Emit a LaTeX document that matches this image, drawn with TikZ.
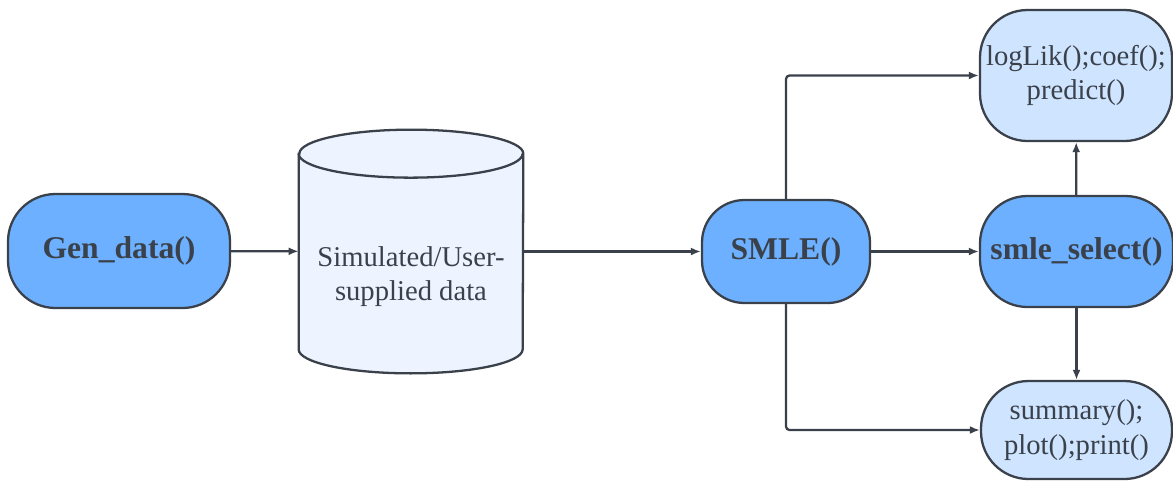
\documentclass[tikz,border=0pt]{standalone}
\usepackage{fontspec}
\setmainfont{Liberation Serif}
\usetikzlibrary{positioning,arrows.meta,calc}
\definecolor{smblue}{RGB}{108,176,255}
\definecolor{smlight}{RGB}{207,228,255}
\definecolor{smpale}{RGB}{237,244,255}
\definecolor{smgray}{RGB}{58,65,74}
\tikzset{
  fnbox/.style={draw=smgray, line width=1.3pt, rounded corners=0.95cm, fill=smblue, align=center, text=smgray, font=\fontsize{18}{21}\selectfont\bfseries, inner sep=0pt},
  outbox/.style={draw=smgray, line width=1.3pt, rounded corners=0.95cm, fill=smlight, align=center, text=smgray, font=\fontsize{16.3}{19.8}\selectfont, inner sep=0pt},
  arrow/.style={-{Latex[length=2mm,width=1.6mm]}, line width=1.3pt, smgray, rounded corners=2pt}
}
\begin{document}
\begin{tikzpicture}
        \useasboundingbox (0,0) rectangle (23.46,-9.6);
        \node[fnbox, minimum width=4.44cm, minimum height=2.28cm] (gen) at (2.38,-5.02) {Gen\_data()};
        \node[minimum width=4.48cm, minimum height=4.86cm, inner sep=0pt] (data) at (8.22,-5.03) {};
        % cylinder drawn round the data node
        \draw[smgray, line width=1.3pt, fill=smpale] ([yshift=-0.48cm]data.north west) -- ([yshift=0.48cm]data.south west)
          arc[start angle=180, end angle=360, x radius=2.24cm, y radius=0.48cm]
          -- ([yshift=-0.48cm]data.north east)
          arc[start angle=0, end angle=180, x radius=2.24cm, y radius=0.48cm] -- cycle;
        \draw[smgray, line width=1.3pt] ([yshift=-0.48cm]data.north west)
          arc[start angle=180, end angle=360, x radius=2.24cm, y radius=0.48cm];
        \node[align=center, text=smgray, font=\fontsize{16.3}{19.8}\selectfont] (datatxt) at (8.22,-5.53) {Simulated/User-\\supplied data};
        \node[fnbox, minimum width=3.36cm, minimum height=2.06cm, rounded corners=0.85cm] (smle) at (15.72,-5.03) {SMLE()};
        \node[fnbox, minimum width=3.86cm, minimum height=2.22cm] (sel) at (21.53,-5.03) {smle\_select()};
        \node[outbox, minimum width=3.84cm, minimum height=2.62cm] (loglik) at (21.52,-1.51) {logLik();coef();\\predict()};
        \node[outbox, minimum width=3.82cm, minimum height=1.96cm] (summ) at (21.53,-8.6) {summary();\\plot();print()};
        \foreach \a/\b in {gen/data,data/smle,smle/sel,sel/loglik,sel/summ}{\draw[arrow] (\a) -- (\b);}
        \draw[arrow] (smle.north) |- (loglik.west);
        \draw[arrow] (smle.south) |- (summ.west);
      \end{tikzpicture}
\end{document}
